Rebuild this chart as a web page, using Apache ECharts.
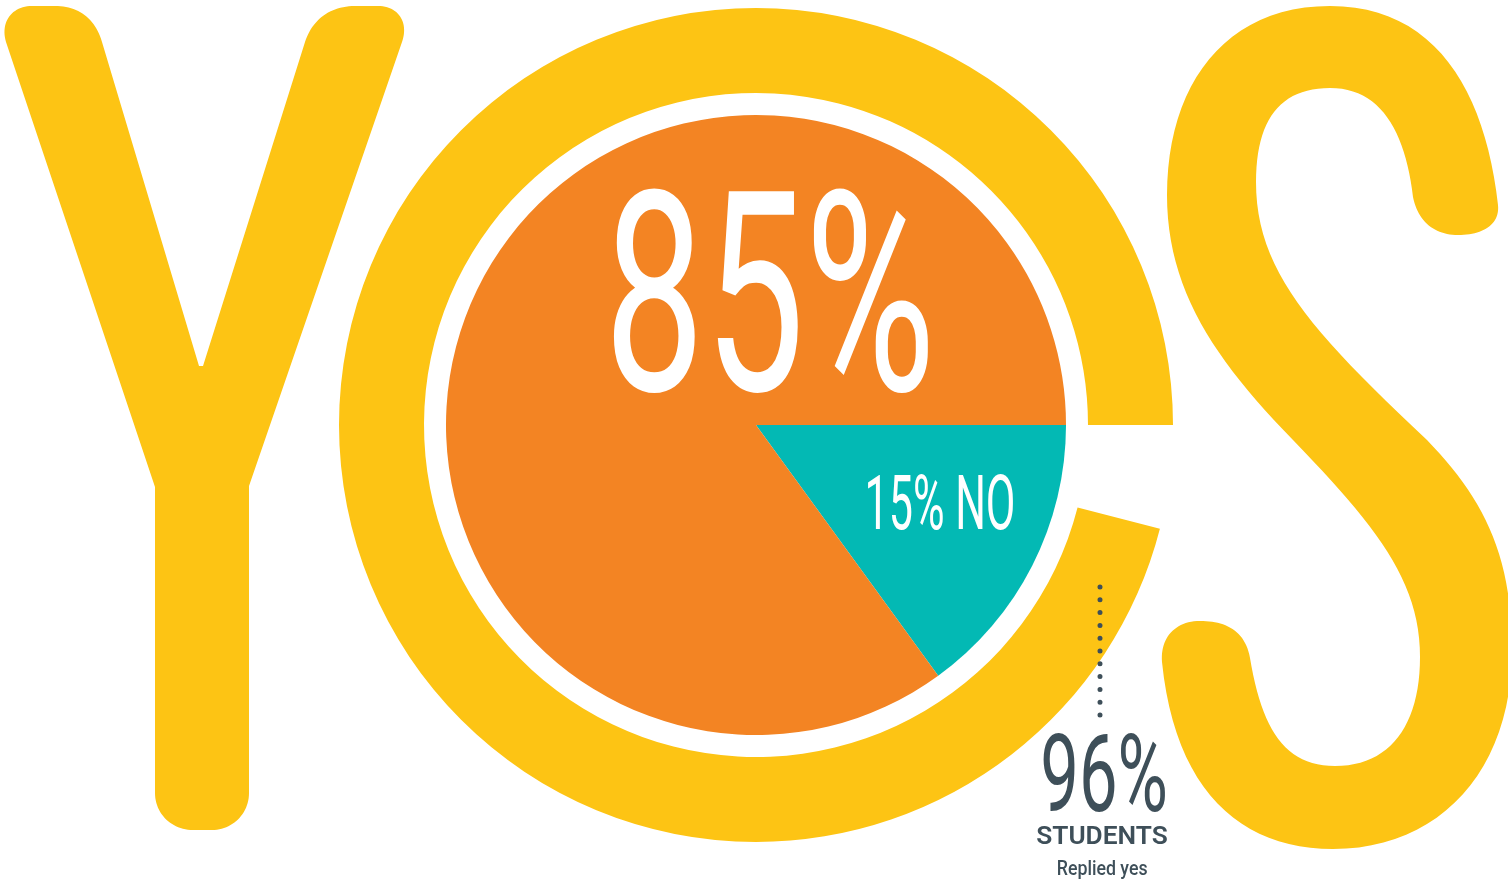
<!DOCTYPE html>
<html>
<head>
<meta charset="utf-8">
<title>YES</title>
<script src="https://cdn.jsdelivr.net/npm/echarts@6/dist/echarts.min.js"></script>
<style>
  html, body { margin: 0; padding: 0; background: #ffffff; }
  #chart { width: 1508px; height: 880px; }
</style>
</head>
<body>
<div id="chart"></div>
<script>
// Survey results
const answerNames = ['NO', 'YES'];
const answerValues = [15, 85];          // share of answers, %
const repliedNames = ['Replied yes', 'Other'];
const repliedValues = [96, 4];          // share of students who replied yes, %
const repliedCaption = ['STUDENTS', 'Replied yes'];

const YELLOW = '#FDC414';
const ORANGE = '#F38423';
const TEAL = '#03B9B4';
const SLATE = '#3E4F59';
const FONT_DIGITS = 'Roboto';
const FONT_CAPTION = 'Roboto';

// Letter "Y" outline
const yLetter = [
  ['M', 32, 6], ['L', 55, 6], ['C', 78, 6, 95, 18, 102, 42], ['L', 199, 366], ['L', 203, 366],
  ['L', 305, 42], ['C', 312, 20, 330, 6, 355, 6], ['L', 378, 6], ['C', 398, 6, 409, 22, 402, 42],
  ['L', 249, 486], ['L', 249, 793], ['C', 249, 814, 232, 830, 212, 830], ['L', 193, 830],
  ['C', 172, 830, 155, 814, 155, 793], ['L', 155, 487], ['L', 6, 42], ['C', 0, 22, 12, 6, 32, 6]
];

// Letter "S" outline
const sLetter = [
  ['M', 1498, 205],
  ['C', 1485, 90, 1435, 6, 1330, 6],
  ['C', 1225, 6, 1167, 85, 1167, 195],
  ['C', 1167, 290, 1215, 360, 1293, 440],
  ['C', 1375, 525, 1420, 580, 1420, 657],
  ['C', 1420, 725, 1390, 766, 1335, 766],
  ['C', 1285, 766, 1262, 730, 1250, 658],
  ['C', 1245, 630, 1225, 621, 1200, 621],
  ['C', 1175, 621, 1160, 638, 1162, 662],
  ['C', 1175, 790, 1240, 849, 1333, 849],
  ['C', 1440, 849, 1512, 770, 1512, 650],
  ['C', 1512, 550, 1480, 495, 1427, 440],
  ['C', 1310, 330, 1256, 270, 1256, 182],
  ['C', 1256, 120, 1280, 88, 1330, 88],
  ['C', 1380, 88, 1405, 130, 1413, 197],
  ['C', 1418, 222, 1435, 235, 1458, 235],
  ['C', 1482, 235, 1500, 225, 1498, 205]
];

function cubicPoints(p0, c1, c2, p3, n) {
  const out = [];
  for (let i = 1; i <= n; i++) {
    const t = i / n, u = 1 - t;
    out.push([
      u * u * u * p0[0] + 3 * u * u * t * c1[0] + 3 * u * t * t * c2[0] + t * t * t * p3[0],
      u * u * u * p0[1] + 3 * u * u * t * c1[1] + 3 * u * t * t * c2[1] + t * t * t * p3[1]
    ]);
  }
  return out;
}

function commandsToPoints(cmds) {
  const pts = [];
  let cur = null;
  cmds.forEach(c => {
    if (c[0] === 'M' || c[0] === 'L') {
      cur = [c[1], c[2]];
      pts.push(cur);
    } else if (c[0] === 'C') {
      const seg = cubicPoints(cur, [c[1], c[2]], [c[3], c[4]], [c[5], c[6]], 24);
      seg.forEach(p => pts.push(p));
      cur = [c[5], c[6]];
    }
  });
  return pts;
}

// Text fitted into an ink box [left, top, right, bottom]
const measureCtx = document.createElement('canvas').getContext('2d');
function fittedText(str, family, weight, box, color, z) {
  measureCtx.font = weight + ' 100px ' + family;
  measureCtx.textBaseline = 'middle';
  measureCtx.textAlign = 'left';
  const m = measureCtx.measureText(str);
  const inkH = m.actualBoundingBoxAscent + m.actualBoundingBoxDescent;
  const size = 100 * (box[3] - box[1]) / inkH;
  const k = size / 100;
  const inkW = (m.actualBoundingBoxLeft + m.actualBoundingBoxRight) * k;
  const sx = (box[2] - box[0]) / inkW;
  return {
    type: 'text',
    z: z,
    silent: true,
    x: box[0] + m.actualBoundingBoxLeft * k * sx,
    y: box[1] + m.actualBoundingBoxAscent * k,
    scaleX: sx,
    style: {
      text: str,
      font: weight + ' ' + size + 'px ' + family,
      fill: color,
      textAlign: 'left',
      textVerticalAlign: 'middle'
    }
  };
}

const chart = echarts.init(document.getElementById('chart'), null, { renderer: 'canvas' });

const center = [756, 425];

const option = {
  backgroundColor: '#ffffff',
  animation: false,
  series: [
    {
      // outer ring: students who replied yes
      type: 'pie',
      center: center,
      radius: [332, 417],
      startAngle: 0,
      clockwise: false,
      silent: true,
      avoidLabelOverlap: false,
      label: { show: false },
      labelLine: { show: false },
      emphasis: { disabled: true },
      itemStyle: { borderWidth: 0 },
      data: repliedNames.map((name, i) => ({
        name: name,
        value: repliedValues[i],
        itemStyle: { color: i === 0 ? YELLOW : 'rgba(0,0,0,0)' }
      }))
    },
    {
      // inner pie: answers
      type: 'pie',
      center: center,
      radius: [0, 310],
      startAngle: 0,
      clockwise: true,
      silent: true,
      avoidLabelOverlap: false,
      label: { show: false },
      labelLine: { show: false },
      emphasis: { disabled: true },
      itemStyle: { borderWidth: 0 },
      data: answerNames.map((name, i) => ({
        name: name,
        value: answerValues[i],
        itemStyle: { color: i === 0 ? TEAL : ORANGE }
      }))
    }
  ],
  graphic: {
    elements: [
      {
        type: 'polygon',
        z: 1,
        silent: true,
        shape: { points: commandsToPoints(yLetter) },
        style: { fill: YELLOW }
      },
      {
        type: 'polygon',
        z: 1,
        silent: true,
        shape: { points: commandsToPoints(sLetter) },
        style: { fill: YELLOW }
      },
      {
        type: 'line',
        z: 100,
        silent: true,
        shape: { x1: 1100, y1: 587, x2: 1100, y2: 716 },
        style: { stroke: SLATE, lineWidth: 5, lineDash: [0, 12.8], lineCap: 'round' }
      },
      fittedText(answerValues[1] + '%', FONT_DIGITS, 400, [613, 186, 928, 393], '#ffffff', 100),
      fittedText(answerValues[0] + '% ' + answerNames[0], FONT_DIGITS, 400, [868, 474, 1013, 530], '#ffffff', 100),
      fittedText(repliedValues[0] + '%', FONT_DIGITS, 400, [1043, 733, 1165, 812], SLATE, 100),
      fittedText(repliedCaption[0], FONT_CAPTION, 600, [1037, 825, 1167, 844], SLATE, 100),
      fittedText(repliedCaption[1], FONT_CAPTION, 500, [1058, 859, 1147, 879], SLATE, 100)
    ]
  }
};

chart.setOption(option);
</script>
</body>
</html>
